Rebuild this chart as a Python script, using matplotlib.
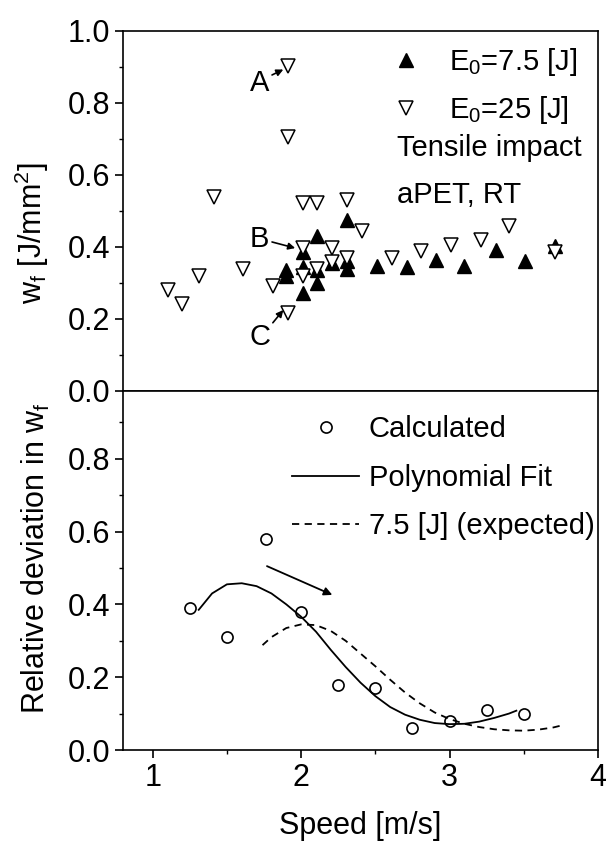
import matplotlib
matplotlib.use("Agg")
import matplotlib.pyplot as plt
from matplotlib.ticker import MultipleLocator

plt.rcParams['font.family'] = ['Liberation Sans', 'DejaVu Sans']
plt.rcParams['mathtext.fontset'] = 'custom'
plt.rcParams['mathtext.rm'] = 'Liberation Sans'
plt.rcParams['mathtext.it'] = 'Liberation Sans'
plt.rcParams['mathtext.default'] = 'regular'

# ---- Top panel data: fracture energy w_f vs speed ----
speed_25 = [1.91, 1.91, 1.41, 2.01, 2.11, 2.31, 2.41, 3.40, 2.21, 3.21, 3.01, 2.81,
            2.61, 3.71, 2.01, 1.61, 1.31, 1.20, 1.10, 1.81, 2.01, 1.91, 2.11, 2.21, 2.31]
wf_25 = [0.903, 0.705, 0.539, 0.522, 0.522, 0.530, 0.445, 0.458, 0.397, 0.419, 0.406, 0.390,
         0.369, 0.387, 0.396, 0.338, 0.319, 0.242, 0.280, 0.292, 0.319, 0.216, 0.338, 0.359, 0.369]

speed_75 = [2.31, 2.11, 2.01, 1.90, 1.90, 2.01, 2.01, 2.11, 2.11, 2.21, 2.31, 2.31,
            2.51, 2.71, 2.91, 3.10, 3.31, 3.51, 3.71]
wf_75 = [0.475, 0.430, 0.385, 0.320, 0.335, 0.345, 0.273, 0.300, 0.335, 0.355, 0.340, 0.362,
         0.347, 0.345, 0.364, 0.348, 0.392, 0.361, 0.403]

# ---- Bottom panel data: relative deviation ----
speed_calc = [1.25, 1.50, 1.76, 2.00, 2.25, 2.50, 2.75, 3.00, 3.25, 3.50]
dev_calc = [0.389, 0.309, 0.579, 0.379, 0.179, 0.169, 0.060, 0.080, 0.110, 0.099]

speed_fit = [1.31, 1.40, 1.50, 1.60, 1.70, 1.80, 1.90, 2.00, 2.10, 2.20, 2.30, 2.40,
             2.50, 2.60, 2.70, 2.80, 2.90, 3.00, 3.10, 3.20, 3.30, 3.40, 3.45]
dev_fit = [0.385, 0.430, 0.455, 0.458, 0.450, 0.430, 0.400, 0.366, 0.325, 0.275, 0.228, 0.185,
           0.148, 0.118, 0.097, 0.083, 0.074, 0.071, 0.072, 0.078, 0.088, 0.100, 0.108]

speed_exp = [1.74, 1.80, 1.90, 2.00, 2.10, 2.20, 2.30, 2.40, 2.50, 2.60, 2.70, 2.80,
             2.90, 3.00, 3.10, 3.20, 3.30, 3.40, 3.50, 3.60, 3.70, 3.75]
dev_exp = [0.288, 0.310, 0.335, 0.345, 0.343, 0.327, 0.300, 0.265, 0.230, 0.193, 0.158, 0.128,
           0.103, 0.085, 0.072, 0.063, 0.057, 0.054, 0.053, 0.056, 0.062, 0.067]

x_ticks = [1, 2, 3, 4]
y_ticks = [0.0, 0.2, 0.4, 0.6, 0.8, 1.0]
y_ticks_bottom = [0.0, 0.2, 0.4, 0.6, 0.8]

FS = 21      # legend / annotation text
TFS = 22     # tick labels
LFS = 22     # axis labels

fig = plt.figure(figsize=(6.06, 8.46), dpi=100)
L, R = 123 / 606, 598 / 606
W = R - L
ax1 = fig.add_axes([L, 1 - 391 / 846, W, 360 / 846])
ax2 = fig.add_axes([L, 1 - 750 / 846, W, 359 / 846])

for ax in (ax1, ax2):
    ax.set_xlim(0.8, 4.0)
    ax.xaxis.set_major_locator(MultipleLocator(1))
    ax.xaxis.set_minor_locator(MultipleLocator(0.5))
    ax.yaxis.set_major_locator(MultipleLocator(0.2))
    ax.yaxis.set_minor_locator(MultipleLocator(0.1))
    ax.tick_params(which='major', direction='out', length=6, width=1.2, labelsize=TFS, pad=3)
    ax.tick_params(which='minor', direction='out', length=3, width=1.0)
    ax.tick_params(top=False, right=False)
    for s in ax.spines.values():
        s.set_linewidth(1.2)

# Top panel
ax1.set_ylim(0, 1.0)
ax1.set_yticks(y_ticks)
ax1.set_yticklabels([f"{v:.1f}" for v in y_ticks])
ax1.tick_params(axis='x', which='both', bottom=False, labelbottom=False)
h75, = ax1.plot(speed_75, wf_75, linestyle='none', marker='^', ms=9.5, color='black')
h25, = ax1.plot(speed_25, wf_25, linestyle='none', marker='v', ms=9.5,
                markerfacecolor='white', markeredgecolor='black', markeredgewidth=1.1)
ax1.set_ylabel("w$_f$ [J/mm$^2$]", fontsize=LFS)
ax1.yaxis.set_label_coords(-0.152, 0.44)
ax1.legend([h75, h25], ["E$_0$=7.5 [J]", "E$_0$=25 [J]"], loc='upper left',
           bbox_to_anchor=(0.526, 0.958), frameon=False, fontsize=FS,
           handlelength=2.3, handletextpad=0.32, labelspacing=0.55,
           borderpad=0, borderaxespad=0)
ax1.text(0.577, 0.675, "Tensile impact", transform=ax1.transAxes, fontsize=FS, va='center', ha='left')
ax1.text(0.577, 0.544, "aPET, RT", transform=ax1.transAxes, fontsize=FS, va='center', ha='left')

arrow_kw = dict(arrowstyle='-|>', color='black', lw=1.2, mutation_scale=10, shrinkA=0, shrinkB=0)
ax1.annotate("A", xy=(1.88, 0.893), xytext=(1.72, 0.856), fontsize=FS, ha='center', va='center',
             arrowprops=dict(**arrow_kw, relpos=(0.9, 0.7)))
ax1.annotate("B", xy=(1.96, 0.397), xytext=(1.72, 0.422), fontsize=FS, ha='center', va='center',
             arrowprops=dict(**arrow_kw, relpos=(0.85, 0.45)))
ax1.annotate("C", xy=(1.88, 0.225), xytext=(1.72, 0.150), fontsize=FS, ha='center', va='center',
             arrowprops=dict(**arrow_kw, relpos=(0.85, 0.75)))

# Bottom panel
ax2.set_ylim(0, 0.986)
ax2.set_yticks(y_ticks_bottom)
ax2.set_yticklabels([f"{v:.1f}" for v in y_ticks_bottom])
ax2.set_xticks(x_ticks)
ax2.set_xticklabels([str(v) for v in x_ticks])
hc, = ax2.plot(speed_calc, dev_calc, linestyle='none', marker='o', ms=8,
               markerfacecolor='white', markeredgecolor='black', markeredgewidth=1.2)
hf, = ax2.plot(speed_fit, dev_fit, '-', color='black', lw=1.3)
he, = ax2.plot(speed_exp, dev_exp, '--', color='black', lw=1.3, dashes=(4, 3))
ax2.annotate("", xy=(2.21, 0.426), xytext=(1.77, 0.505),
             arrowprops=dict(arrowstyle='-|>', color='black', lw=1.3, mutation_scale=12,
                             shrinkA=0, shrinkB=0))
ax2.set_ylabel("Relative deviation in w$_f$", fontsize=LFS)
ax2.yaxis.set_label_coords(-0.15, 0.535)
ax2.set_xlabel("Speed [m/s]", fontsize=LFS)
ax2.xaxis.set_label_coords(0.5, -0.17)
ax2.legend([hc, hf, he], ["Calculated", "Polynomial Fit", "7.5 [J] (expected)"],
           loc='upper left', bbox_to_anchor=(0.356, 0.932), frameon=False, fontsize=FS,
           handlelength=2.3, handletextpad=0.32, labelspacing=0.7,
           borderpad=0, borderaxespad=0)

fig.savefig("out.png", dpi=100)
